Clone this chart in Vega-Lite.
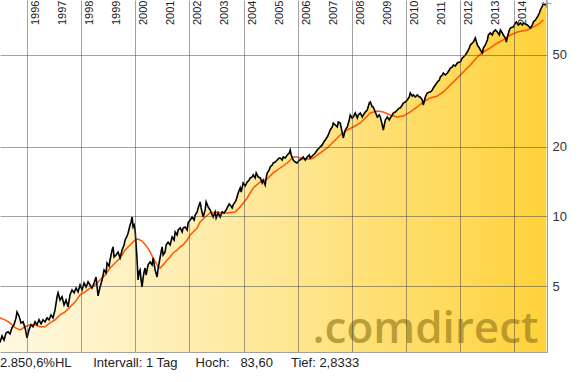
{
"$schema": "https://vega.github.io/schema/vega-lite/v6.json",
"width": 547,
"height": 352,
"autosize": {"type": "none"},
"padding": {"left": 0, "top": 0, "right": 41, "bottom": 30},
"background": "white",
"config": {"view": {"stroke": null}, "font": "Liberation Sans"},
"title": {"text": "2.850,6%HL\u00a0\u00a0\u00a0\u00a0\u00a0\u00a0Intervall: 1 Tag\u00a0\u00a0\u00a0\u00a0\u00a0Hoch:\u00a0\u00a0\u00a083,60\u00a0\u00a0\u00a0\u00a0\u00a0Tief: 2,8333", "orient": "bottom", "anchor": "start", "offset": 15, "baseline": "alphabetic", "fontSize": 13, "fontWeight": "normal", "font": "Liberation Sans", "color": "#222222"},
"datasets": {
"price": [{"t":1995.000,"v":2.85},{"t":1995.074,"v":3.04},{"t":1995.148,"v":2.92},{"t":1995.222,"v":3.13},{"t":1995.296,"v":3.17},{"t":1995.370,"v":3.10},{"t":1995.444,"v":3.30},{"t":1995.518,"v":3.40},{"t":1995.592,"v":3.64},{"t":1995.629,"v":3.86},{"t":1995.703,"v":3.71},{"t":1995.777,"v":3.46},{"t":1995.851,"v":3.50},{"t":1995.925,"v":3.30},{"t":1995.999,"v":2.98},{"t":1996.072,"v":3.23},{"t":1996.146,"v":3.40},{"t":1996.220,"v":3.33},{"t":1996.294,"v":3.50},{"t":1996.368,"v":3.40},{"t":1996.442,"v":3.57},{"t":1996.516,"v":3.43},{"t":1996.590,"v":3.57},{"t":1996.664,"v":3.50},{"t":1996.738,"v":3.64},{"t":1996.812,"v":3.57},{"t":1996.886,"v":3.75},{"t":1996.960,"v":3.64},{"t":1997.034,"v":3.94},{"t":1997.108,"v":4.49},{"t":1997.145,"v":4.67},{"t":1997.219,"v":4.35},{"t":1997.293,"v":4.49},{"t":1997.367,"v":4.14},{"t":1997.441,"v":4.35},{"t":1997.515,"v":4.06},{"t":1997.589,"v":4.58},{"t":1997.663,"v":4.81},{"t":1997.737,"v":4.67},{"t":1997.811,"v":4.90},{"t":1997.885,"v":4.72},{"t":1997.959,"v":5.05},{"t":1998.033,"v":4.81},{"t":1998.106,"v":5.15},{"t":1998.180,"v":4.95},{"t":1998.254,"v":5.21},{"t":1998.328,"v":5.05},{"t":1998.402,"v":4.90},{"t":1998.476,"v":5.15},{"t":1998.550,"v":5.47},{"t":1998.624,"v":4.53},{"t":1998.698,"v":4.95},{"t":1998.772,"v":5.31},{"t":1998.846,"v":5.87},{"t":1998.920,"v":5.70},{"t":1998.957,"v":6.29},{"t":1999.031,"v":6.10},{"t":1999.068,"v":6.48},{"t":1999.142,"v":7.16},{"t":1999.179,"v":7.38},{"t":1999.216,"v":6.68},{"t":1999.290,"v":6.81},{"t":1999.364,"v":7.02},{"t":1999.438,"v":6.61},{"t":1999.512,"v":7.16},{"t":1999.586,"v":7.53},{"t":1999.623,"v":7.91},{"t":1999.697,"v":8.23},{"t":1999.734,"v":8.48},{"t":1999.808,"v":9.19},{"t":1999.845,"v":9.47},{"t":1999.882,"v":9.95},{"t":1999.919,"v":9.01},{"t":1999.956,"v":9.19},{"t":1999.993,"v":8.74},{"t":2000.030,"v":7.53},{"t":2000.066,"v":6.48},{"t":2000.103,"v":5.31},{"t":2000.140,"v":5.75},{"t":2000.177,"v":5.87},{"t":2000.214,"v":5.31},{"t":2000.251,"v":4.95},{"t":2000.288,"v":5.42},{"t":2000.325,"v":5.75},{"t":2000.362,"v":5.98},{"t":2000.399,"v":5.58},{"t":2000.473,"v":6.17},{"t":2000.547,"v":6.35},{"t":2000.621,"v":6.17},{"t":2000.658,"v":6.61},{"t":2000.732,"v":5.87},{"t":2000.806,"v":5.47},{"t":2000.843,"v":5.98},{"t":2000.880,"v":6.29},{"t":2000.954,"v":7.02},{"t":2000.991,"v":7.38},{"t":2001.028,"v":6.81},{"t":2001.102,"v":7.02},{"t":2001.139,"v":7.53},{"t":2001.213,"v":7.75},{"t":2001.287,"v":7.53},{"t":2001.361,"v":8.15},{"t":2001.435,"v":7.91},{"t":2001.472,"v":8.57},{"t":2001.546,"v":8.32},{"t":2001.583,"v":8.74},{"t":2001.657,"v":8.92},{"t":2001.731,"v":8.57},{"t":2001.768,"v":8.92},{"t":2001.842,"v":9.01},{"t":2001.916,"v":8.74},{"t":2001.953,"v":9.38},{"t":2002.027,"v":9.66},{"t":2002.101,"v":9.95},{"t":2002.175,"v":9.66},{"t":2002.212,"v":10.15},{"t":2002.286,"v":10.46},{"t":2002.323,"v":10.89},{"t":2002.396,"v":11.56},{"t":2002.433,"v":10.89},{"t":2002.507,"v":9.95},{"t":2002.581,"v":10.67},{"t":2002.618,"v":11.56},{"t":2002.692,"v":11.00},{"t":2002.766,"v":10.67},{"t":2002.840,"v":10.15},{"t":2002.877,"v":9.95},{"t":2002.951,"v":10.46},{"t":2002.988,"v":9.85},{"t":2003.062,"v":10.36},{"t":2003.136,"v":9.95},{"t":2003.210,"v":10.46},{"t":2003.284,"v":10.36},{"t":2003.358,"v":10.67},{"t":2003.395,"v":10.89},{"t":2003.469,"v":11.33},{"t":2003.506,"v":11.22},{"t":2003.580,"v":10.89},{"t":2003.617,"v":11.22},{"t":2003.691,"v":11.56},{"t":2003.728,"v":11.79},{"t":2003.802,"v":12.64},{"t":2003.876,"v":13.29},{"t":2003.913,"v":12.76},{"t":2003.987,"v":13.97},{"t":2004.061,"v":13.55},{"t":2004.135,"v":14.11},{"t":2004.209,"v":14.39},{"t":2004.246,"v":14.68},{"t":2004.320,"v":14.83},{"t":2004.357,"v":15.13},{"t":2004.431,"v":14.68},{"t":2004.468,"v":15.43},{"t":2004.505,"v":15.13},{"t":2004.542,"v":14.83},{"t":2004.616,"v":14.68},{"t":2004.690,"v":13.97},{"t":2004.727,"v":14.39},{"t":2004.801,"v":13.69},{"t":2004.838,"v":14.68},{"t":2004.875,"v":15.43},{"t":2004.949,"v":15.90},{"t":2004.985,"v":16.38},{"t":2005.059,"v":16.71},{"t":2005.096,"v":17.04},{"t":2005.170,"v":17.21},{"t":2005.244,"v":17.56},{"t":2005.318,"v":17.91},{"t":2005.355,"v":17.91},{"t":2005.429,"v":17.56},{"t":2005.466,"v":18.09},{"t":2005.540,"v":17.91},{"t":2005.614,"v":18.46},{"t":2005.688,"v":18.83},{"t":2005.725,"v":19.40},{"t":2005.762,"v":18.46},{"t":2005.836,"v":17.56},{"t":2005.910,"v":17.21},{"t":2005.984,"v":17.04},{"t":2006.058,"v":17.56},{"t":2006.095,"v":17.56},{"t":2006.169,"v":17.91},{"t":2006.206,"v":18.09},{"t":2006.280,"v":17.56},{"t":2006.354,"v":18.09},{"t":2006.428,"v":18.46},{"t":2006.465,"v":17.91},{"t":2006.539,"v":18.27},{"t":2006.576,"v":18.46},{"t":2006.650,"v":18.83},{"t":2006.724,"v":19.40},{"t":2006.798,"v":19.80},{"t":2006.835,"v":20.00},{"t":2006.909,"v":20.40},{"t":2006.946,"v":20.81},{"t":2007.020,"v":21.44},{"t":2007.094,"v":22.08},{"t":2007.131,"v":22.53},{"t":2007.205,"v":23.68},{"t":2007.279,"v":24.40},{"t":2007.316,"v":25.39},{"t":2007.390,"v":24.89},{"t":2007.464,"v":24.40},{"t":2007.501,"v":25.64},{"t":2007.574,"v":25.39},{"t":2007.611,"v":24.16},{"t":2007.685,"v":21.87},{"t":2007.759,"v":23.68},{"t":2007.833,"v":24.40},{"t":2007.907,"v":26.16},{"t":2007.944,"v":27.50},{"t":2008.018,"v":26.69},{"t":2008.055,"v":26.95},{"t":2008.129,"v":28.05},{"t":2008.203,"v":26.69},{"t":2008.240,"v":27.50},{"t":2008.314,"v":28.05},{"t":2008.388,"v":26.95},{"t":2008.425,"v":27.50},{"t":2008.499,"v":28.33},{"t":2008.573,"v":28.90},{"t":2008.647,"v":30.99},{"t":2008.684,"v":31.30},{"t":2008.758,"v":29.78},{"t":2008.795,"v":29.78},{"t":2008.869,"v":28.33},{"t":2008.943,"v":26.95},{"t":2009.017,"v":27.50},{"t":2009.054,"v":26.95},{"t":2009.128,"v":24.89},{"t":2009.165,"v":23.68},{"t":2009.239,"v":26.16},{"t":2009.313,"v":26.95},{"t":2009.387,"v":26.16},{"t":2009.424,"v":26.69},{"t":2009.498,"v":27.50},{"t":2009.535,"v":28.05},{"t":2009.609,"v":28.33},{"t":2009.683,"v":28.90},{"t":2009.757,"v":29.48},{"t":2009.793,"v":29.48},{"t":2009.867,"v":30.38},{"t":2009.904,"v":30.99},{"t":2009.978,"v":31.30},{"t":2010.052,"v":31.93},{"t":2010.126,"v":32.90},{"t":2010.163,"v":34.24},{"t":2010.237,"v":33.22},{"t":2010.274,"v":33.57},{"t":2010.348,"v":32.90},{"t":2010.422,"v":33.57},{"t":2010.496,"v":32.90},{"t":2010.533,"v":32.90},{"t":2010.607,"v":31.93},{"t":2010.644,"v":30.38},{"t":2010.718,"v":32.90},{"t":2010.792,"v":34.24},{"t":2010.866,"v":34.59},{"t":2010.903,"v":34.59},{"t":2010.977,"v":35.28},{"t":2011.014,"v":35.99},{"t":2011.088,"v":37.09},{"t":2011.162,"v":38.21},{"t":2011.236,"v":38.98},{"t":2011.273,"v":40.16},{"t":2011.347,"v":40.97},{"t":2011.384,"v":41.79},{"t":2011.458,"v":40.97},{"t":2011.532,"v":41.79},{"t":2011.606,"v":43.06},{"t":2011.642,"v":43.93},{"t":2011.716,"v":44.36},{"t":2011.753,"v":45.26},{"t":2011.827,"v":44.79},{"t":2011.901,"v":46.17},{"t":2011.975,"v":46.63},{"t":2012.012,"v":46.63},{"t":2012.086,"v":48.53},{"t":2012.123,"v":49.02},{"t":2012.197,"v":50.00},{"t":2012.271,"v":51.52},{"t":2012.345,"v":53.62},{"t":2012.382,"v":55.25},{"t":2012.456,"v":56.36},{"t":2012.493,"v":56.93},{"t":2012.567,"v":59.24},{"t":2012.641,"v":55.25},{"t":2012.715,"v":53.62},{"t":2012.752,"v":52.56},{"t":2012.826,"v":51.01},{"t":2012.863,"v":53.62},{"t":2012.937,"v":55.25},{"t":2013.011,"v":58.07},{"t":2013.048,"v":61.03},{"t":2013.122,"v":62.26},{"t":2013.196,"v":61.03},{"t":2013.233,"v":62.89},{"t":2013.307,"v":64.15},{"t":2013.381,"v":62.89},{"t":2013.455,"v":61.03},{"t":2013.491,"v":64.15},{"t":2013.565,"v":62.26},{"t":2013.602,"v":61.03},{"t":2013.676,"v":59.24},{"t":2013.713,"v":56.93},{"t":2013.750,"v":59.83},{"t":2013.824,"v":64.15},{"t":2013.861,"v":65.44},{"t":2013.935,"v":66.09},{"t":2013.972,"v":66.09},{"t":2014.046,"v":68.78},{"t":2014.083,"v":69.47},{"t":2014.157,"v":67.43},{"t":2014.231,"v":68.78},{"t":2014.305,"v":67.43},{"t":2014.342,"v":68.78},{"t":2014.416,"v":68.10},{"t":2014.490,"v":67.43},{"t":2014.564,"v":66.09},{"t":2014.600,"v":65.44},{"t":2014.674,"v":67.43},{"t":2014.711,"v":69.47},{"t":2014.785,"v":70.87},{"t":2014.859,"v":73.02},{"t":2014.933,"v":75.99},{"t":2014.970,"v":78.30},{"t":2015.044,"v":81.45},{"t":2015.081,"v":83.60},{"t":2015.155,"v":82.30},{"t":2015.192,"v":82.30}],
"ma": [{"t":1995.000,"v":3.64},{"t":1995.185,"v":3.57},{"t":1995.370,"v":3.46},{"t":1995.555,"v":3.30},{"t":1995.740,"v":3.23},{"t":1995.925,"v":3.33},{"t":1996.109,"v":3.40},{"t":1996.294,"v":3.40},{"t":1996.479,"v":3.33},{"t":1996.664,"v":3.33},{"t":1996.849,"v":3.46},{"t":1997.034,"v":3.57},{"t":1997.219,"v":3.75},{"t":1997.404,"v":3.86},{"t":1997.589,"v":4.06},{"t":1997.774,"v":4.26},{"t":1997.959,"v":4.58},{"t":1998.143,"v":4.72},{"t":1998.328,"v":4.90},{"t":1998.513,"v":5.05},{"t":1998.698,"v":5.31},{"t":1998.883,"v":5.58},{"t":1999.068,"v":5.98},{"t":1999.253,"v":6.29},{"t":1999.438,"v":6.61},{"t":1999.623,"v":7.16},{"t":1999.808,"v":7.53},{"t":1999.993,"v":7.91},{"t":2000.103,"v":7.99},{"t":2000.251,"v":7.83},{"t":2000.436,"v":7.38},{"t":2000.547,"v":7.02},{"t":2000.658,"v":6.61},{"t":2000.806,"v":6.17},{"t":2000.917,"v":5.98},{"t":2001.028,"v":6.17},{"t":2001.176,"v":6.48},{"t":2001.287,"v":6.68},{"t":2001.398,"v":6.95},{"t":2001.546,"v":7.16},{"t":2001.657,"v":7.38},{"t":2001.768,"v":7.53},{"t":2001.916,"v":7.91},{"t":2002.027,"v":8.32},{"t":2002.138,"v":8.57},{"t":2002.286,"v":8.92},{"t":2002.396,"v":9.47},{"t":2002.581,"v":9.95},{"t":2002.766,"v":10.36},{"t":2003.025,"v":10.46},{"t":2003.210,"v":10.36},{"t":2003.395,"v":10.36},{"t":2003.691,"v":10.46},{"t":2003.876,"v":11.00},{"t":2004.135,"v":12.02},{"t":2004.357,"v":13.29},{"t":2004.616,"v":14.11},{"t":2004.875,"v":14.54},{"t":2005.096,"v":15.43},{"t":2005.355,"v":16.21},{"t":2005.614,"v":17.04},{"t":2005.836,"v":18.09},{"t":2005.984,"v":18.09},{"t":2006.206,"v":17.74},{"t":2006.465,"v":17.74},{"t":2006.576,"v":17.91},{"t":2006.835,"v":18.83},{"t":2007.094,"v":19.80},{"t":2007.316,"v":21.02},{"t":2007.574,"v":22.53},{"t":2007.833,"v":23.68},{"t":2008.055,"v":24.40},{"t":2008.314,"v":25.39},{"t":2008.684,"v":28.05},{"t":2008.943,"v":28.61},{"t":2009.165,"v":28.33},{"t":2009.424,"v":27.50},{"t":2009.683,"v":26.95},{"t":2009.904,"v":27.21},{"t":2010.163,"v":28.33},{"t":2010.422,"v":29.78},{"t":2010.644,"v":31.30},{"t":2010.903,"v":32.58},{"t":2011.162,"v":33.22},{"t":2011.384,"v":34.59},{"t":2011.642,"v":37.09},{"t":2011.901,"v":39.76},{"t":2012.123,"v":42.21},{"t":2012.382,"v":45.26},{"t":2012.641,"v":49.02},{"t":2012.863,"v":51.52},{"t":2013.122,"v":53.62},{"t":2013.381,"v":56.36},{"t":2013.602,"v":58.07},{"t":2013.861,"v":61.03},{"t":2014.120,"v":62.89},{"t":2014.490,"v":64.15},{"t":2014.859,"v":67.43},{"t":2015.081,"v":70.87}],
"last": [{"t":2015.19,"v":83.6}],
"mark": [{"label":".comdirect"}],
"years": [{"year":1996},{"year":1997},{"year":1998},{"year":1999},{"year":2000},{"year":2001},{"year":2002},{"year":2003},{"year":2004},{"year":2005},{"year":2006},{"year":2007},{"year":2008},{"year":2009},{"year":2010},{"year":2011},{"year":2012},{"year":2013},{"year":2014}]
},
"layer": [
{
"data": {"name": "price"},
"mark": {"type": "area", "clip": true, "color": {"gradient": "linear", "x1": 0, "y1": 0, "x2": 1, "y2": 0, "stops": [{"offset": 0, "color": "#fff9e3"}, {"offset": 0.5, "color": "#fee897"}, {"offset": 1, "color": "#ffd23a"}]}},
"encoding": {
"x": {"field": "t", "type": "quantitative", "title": null, "scale": {"domain": [1995.0, 2015.215], "nice": false, "zero": false}, "axis": {"orient": "bottom", "values": [1996,1997,1998,1999,2000,2001,2002,2003,2004,2005,2006,2007,2008,2009,2010,2011,2012,2013,2014,2015], "labels": false, "grid": true, "gridColor": "#444444", "gridOpacity": 0.5, "gridWidth": 1, "ticks": false, "tickSize": 0, "domain": true, "domainColor": "#a0a0a0", "domainWidth": 1, "title": null, "zindex": 1}},
"y": {"field": "v", "type": "quantitative", "title": null, "scale": {"type": "log", "domain": [2.59, 86.5], "nice": false, "zero": false}, "axis": {"orient": "right", "values": [5, 10, 20, 50], "grid": true, "gridColor": "#444444", "gridOpacity": 0.5, "gridWidth": 1, "ticks": false, "tickSize": 0, "domain": true, "domainColor": "#a0a0a0", "domainWidth": 1, "labelPadding": 5, "labelFont": "Liberation Sans", "labelFontSize": 13, "labelColor": "#333333", "labelFlush": false, "labelOverlap": false, "title": null, "zindex": 1}},
"y2": {"datum": 2.59}
}
},
{
"data": {"name": "mark"},
"mark": {"type": "text", "font": "Open Sans", "fontSize": 44, "fontWeight": 600, "align": "right", "baseline": "alphabetic", "fill": "#9a7f1c", "opacity": 0.68},
"encoding": {
"text": {"field": "label"},
"x": {"datum": 2014.9, "type": "quantitative"},
"y": {"datum": 2.83, "type": "quantitative"}
}
},
{
"data": {"name": "ma"},
"mark": {"type": "line", "clip": true, "color": "#ff5500", "strokeWidth": 1.5},
"encoding": {
"x": {"field": "t", "type": "quantitative", "title": null},
"y": {"field": "v", "type": "quantitative", "title": null}
}
},
{
"data": {"name": "price"},
"mark": {"type": "line", "clip": true, "color": "#000000", "strokeWidth": 1.6},
"encoding": {
"x": {"field": "t", "type": "quantitative", "title": null},
"y": {"field": "v", "type": "quantitative", "title": null}
}
},
{
"data": {"name": "years"},
"mark": {"type": "text", "angle": 270, "align": "left", "baseline": "alphabetic", "dy": 12, "font": "Liberation Sans", "fontSize": 11, "fill": "#222222"},
"encoding": {
"text": {"field": "year", "type": "nominal"},
"x": {"field": "year", "type": "quantitative", "title": null},
"y": {"datum": 67.4, "type": "quantitative"}
}
},
{
"data": {"name": "last"},
"mark": {"type": "point", "shape": "M-1,0L1,0M0,-1L0,1", "stroke": "#999999", "strokeWidth": 1, "size": 100, "filled": false, "opacity": 1},
"encoding": {
"x": {"field": "t", "type": "quantitative", "title": null},
"y": {"field": "v", "type": "quantitative", "title": null}
}
}
]
}
